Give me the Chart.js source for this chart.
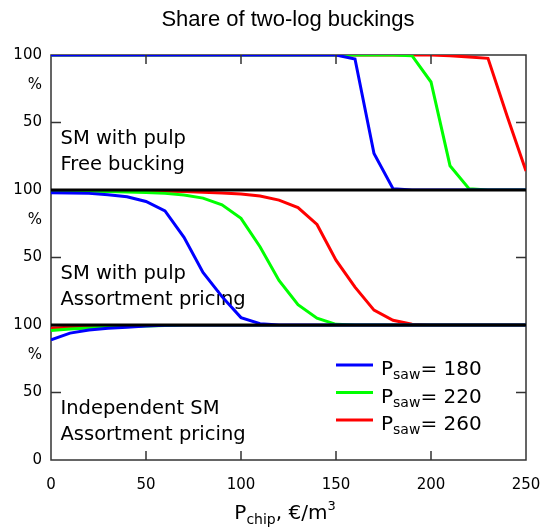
<!DOCTYPE html>
<html>
<head>
<title>Share of two-log buckings</title>
<style>
  body { margin: 0; padding: 0; background: #ffffff; }
  #wrap { width: 547px; height: 531px; }
</style>
</head>
<body>
<div id="wrap"><canvas id="chart"></canvas></div>
<script src="https://cdn.jsdelivr.net/npm/chart.js"></script>
<script>
    // chip price, EUR/m3
    const pChip = [0, 10, 20, 30, 40, 50, 60, 70, 80, 90, 100, 110, 120, 130, 140, 150, 160, 170, 180, 190, 200, 210, 220, 230, 240, 250];
    const sawPrices = [180, 220, 260];

    // share of two-log buckings, % - top panel (SM with pulp, free bucking)
    const freeSaw180 = [100, 100, 100, 100, 100, 100, 100, 100, 100, 100, 100, 100, 100, 100, 100, 100, 97, 27, 1, 0, 0, 0, 0, 0, 0, 0];
    const freeSaw220 = [100, 100, 100, 100, 100, 100, 100, 100, 100, 100, 100, 100, 100, 100, 100, 100, 100, 100, 100, 99.5, 80, 18, 1, 0, 0, 0];
    const freeSaw260 = [100, 100, 100, 100, 100, 100, 100, 100, 100, 100, 100, 100, 100, 100, 100, 100, 100, 100, 100, 100, 100, 99.5, 98.5, 97.5, 55, 14];

    // middle panel (SM with pulp, assortment pricing)
    const pulpSaw180 = [98, 97.8, 97.5, 96.5, 95, 91.5, 84.5, 65, 39, 21, 5.5, 1, 0, 0, 0, 0, 0, 0, 0, 0, 0, 0, 0, 0, 0, 0];
    const pulpSaw220 = [99.5, 99.3, 99.1, 98.9, 98.6, 98.2, 97.5, 96.3, 94, 89, 79, 58, 33, 15, 5, 0.5, 0, 0, 0, 0, 0, 0, 0, 0, 0, 0];
    const pulpSaw260 = [99.6, 99.5, 99.4, 99.3, 99.2, 99.1, 99, 98.8, 98.4, 97.8, 97, 95.5, 92.5, 87, 74.5, 48, 28, 11, 3.5, 0.5, 0, 0, 0, 0, 0, 0];

    // bottom panel (independent SM, assortment pricing)
    const indepSaw180 = [89, 94, 96.3, 97.6, 98.4, 99.2, 99.8, 100, 100, 100, 100, 100, 100, 100, 100, 100, 100, 100, 100, 100, 100, 100, 100, 100, 100, 100];
    const indepSaw220 = [96, 97, 97.8, 98.3, 98.8, 99.3, 99.7, 100, 100, 100, 100, 100, 100, 100, 100, 100, 100, 100, 100, 100, 100, 100, 100, 100, 100, 100];
    const indepSaw260 = [97.8, 98.4, 98.8, 99.2, 99.5, 99.8, 100, 100, 100, 100, 100, 100, 100, 100, 100, 100, 100, 100, 100, 100, 100, 100, 100, 100, 100, 100];

    const xTickStep = 50;
    const yTickValues = [50, 78, 100];   // 78 carries the "%" label
    const percentTick = 78;

    const lineColors = ['#0000ff', '#00ff00', '#ff0000'];
    const tickFont = { family: 'DejaVu Sans', size: 15 };

    // panels from top to bottom
    const panels = [
      { axis: 'yTop', series: [freeSaw180, freeSaw220, freeSaw260], text: ['SM with pulp', 'Free bucking'] },
      { axis: 'yMid', series: [pulpSaw180, pulpSaw220, pulpSaw260], text: ['SM with pulp', 'Assortment pricing'] },
      { axis: 'yBot', series: [indepSaw180, indepSaw220, indepSaw260], text: ['Independent SM', 'Assortment pricing'] }
    ];

    const datasets = [];
    panels.forEach(p => {
      p.series.forEach((vals, i) => {
        datasets.push({
          label: 'Psaw= ' + sawPrices[i],
          data: vals.map((v, k) => ({ x: pChip[k], y: v })),
          yAxisID: p.axis,
          borderColor: lineColors[i],
          borderWidth: 3,
          pointRadius: 0,
          tension: 0,
          fill: false
        });
      });
    });

    function panelAxis(withZero) {
      return {
        type: 'linear',
        position: 'left',
        stack: 'panels',
        stackWeight: 1,
        min: 0,
        max: 100,
        grid: { display: false, drawTicks: false },
        border: { display: false },
        afterBuildTicks: ax => {
          const vals = withZero ? [0].concat(yTickValues) : yTickValues;
          ax.ticks = vals.map(v => ({ value: v }));
        },
        ticks: {
          autoSkip: false,
          padding: 9,
          color: '#000',
          font: tickFont,
          callback: v => v === percentTick ? '%' : String(v)
        },
        afterFit: ax => { ax.width = 51; }
      };
    }

    // frame, separators, inner ticks, texts and legend
    const decor = {
      id: 'decor',
      beforeDatasetsDraw(chart) {
        const { ctx, chartArea: a } = chart;
        ctx.save();
        ctx.strokeStyle = '#333';
        ctx.lineWidth = 1.5;
        ctx.strokeRect(a.left, a.top, a.right - a.left, a.bottom - a.top);

        ctx.fillStyle = '#000';
        ctx.font = '19.5px "DejaVu Sans"';
        ctx.textAlign = 'left';
        ctx.textBaseline = 'alphabetic';
        const xs = chart.scales.x;
        panels.forEach(p => {
          const ys = chart.scales[p.axis];
          const x = xs.getPixelForValue(5);
          const y = ys.getPixelForValue(34);
          ctx.fillText(p.text[0], x, y);
          ctx.fillText(p.text[1], x, y + 26);
        });
        ctx.restore();
      },
      afterDatasetsDraw(chart) {
        const { ctx, chartArea: a } = chart;
        const xs = chart.scales.x;
        ctx.save();

        // panel separators
        ctx.strokeStyle = '#000';
        ctx.lineWidth = 3;
        ['yMid', 'yBot'].forEach(id => {
          const y = chart.scales[id].getPixelForValue(100);
          ctx.beginPath();
          ctx.moveTo(a.left, y);
          ctx.lineTo(a.right, y);
          ctx.stroke();
        });

        // inner tick marks
        ctx.strokeStyle = '#333';
        ctx.lineWidth = 1.5;
        ctx.beginPath();
        ['yTop', 'yMid', 'yBot'].forEach(id => {
          const y = chart.scales[id].getPixelForValue(50);
          ctx.moveTo(a.left, y); ctx.lineTo(a.left + 10, y);
          ctx.moveTo(a.right, y); ctx.lineTo(a.right - 10, y);
        });
        for (let v = xTickStep; v < 250; v += xTickStep) {
          const x = xs.getPixelForValue(v);
          ctx.moveTo(x, a.top); ctx.lineTo(x, a.top + 9);
          ctx.moveTo(x, a.bottom); ctx.lineTo(x, a.bottom - 9);
        }
        ctx.stroke();

        // legend
        const lx = 336, ly = 365, step = 27.5;
        sawPrices.forEach((p, i) => {
          const y = ly + i * step;
          ctx.strokeStyle = lineColors[i];
          ctx.lineWidth = 3;
          ctx.beginPath();
          ctx.moveTo(lx, y);
          ctx.lineTo(lx + 37, y);
          ctx.stroke();
          ctx.fillStyle = '#000';
          ctx.textAlign = 'left';
          let tx = lx + 45;
          ctx.font = '20px "DejaVu Sans"';
          ctx.fillText('P', tx, y + 10);
          tx += ctx.measureText('P').width;
          ctx.font = '14px "DejaVu Sans"';
          ctx.fillText('saw', tx, y + 14);
          tx += ctx.measureText('saw').width;
          ctx.font = '20px "DejaVu Sans"';
          ctx.fillText('= ' + p, tx, y + 10);
        });

        // title
        ctx.fillStyle = '#000';
        ctx.textAlign = 'center';
        ctx.font = '22px "Liberation Sans"';
        ctx.fillText('Share of two-log buckings', 288, 26);

        // x axis label
        ctx.textAlign = 'left';
        const parts = [
          { t: 'P', f: '20px "DejaVu Sans"', dy: 0 },
          { t: 'chip', f: '14px "DejaVu Sans"', dy: 5 },
          { t: ', \u20ac/m', f: '20px "DejaVu Sans"', dy: 0 },
          { t: '3', f: '13px "DejaVu Sans"', dy: -9 }
        ];
        let w = 0;
        parts.forEach(s => { ctx.font = s.f; w += ctx.measureText(s.t).width; });
        let tx = 285 - w / 2;
        parts.forEach(s => {
          ctx.font = s.f;
          ctx.fillText(s.t, tx, 519 + s.dy);
          tx += ctx.measureText(s.t).width;
        });
        ctx.restore();
      }
    };

    const ctx = document.getElementById('chart').getContext('2d');
    const chart = new Chart(ctx, {
      type: 'line',
      data: { datasets: datasets },
      options: {
        responsive: true,
        maintainAspectRatio: false,
        animation: false,
        layout: { padding: { left: 0, right: 21, top: 55, bottom: 0 } },
        scales: {
          x: {
            type: 'linear',
            min: 0,
            max: 250,
            grid: { display: false, drawTicks: false },
            border: { display: false },
            ticks: { stepSize: xTickStep, padding: 16, color: '#000', font: tickFont },
            afterFit: ax => {
              ax.height = 71;
              ax.paddingLeft = 0;
              ax.paddingRight = 0;
            }
          },
          // defined bottom first: the last stacked left axis sits on top
          yBot: panelAxis(true),
          yMid: panelAxis(false),
          yTop: panelAxis(false)
        },
        plugins: {
          legend: { display: false },
          title: { display: false },
          tooltip: { enabled: false }
        }
      },
      plugins: [decor]
    });
</script>
</body>
</html>
